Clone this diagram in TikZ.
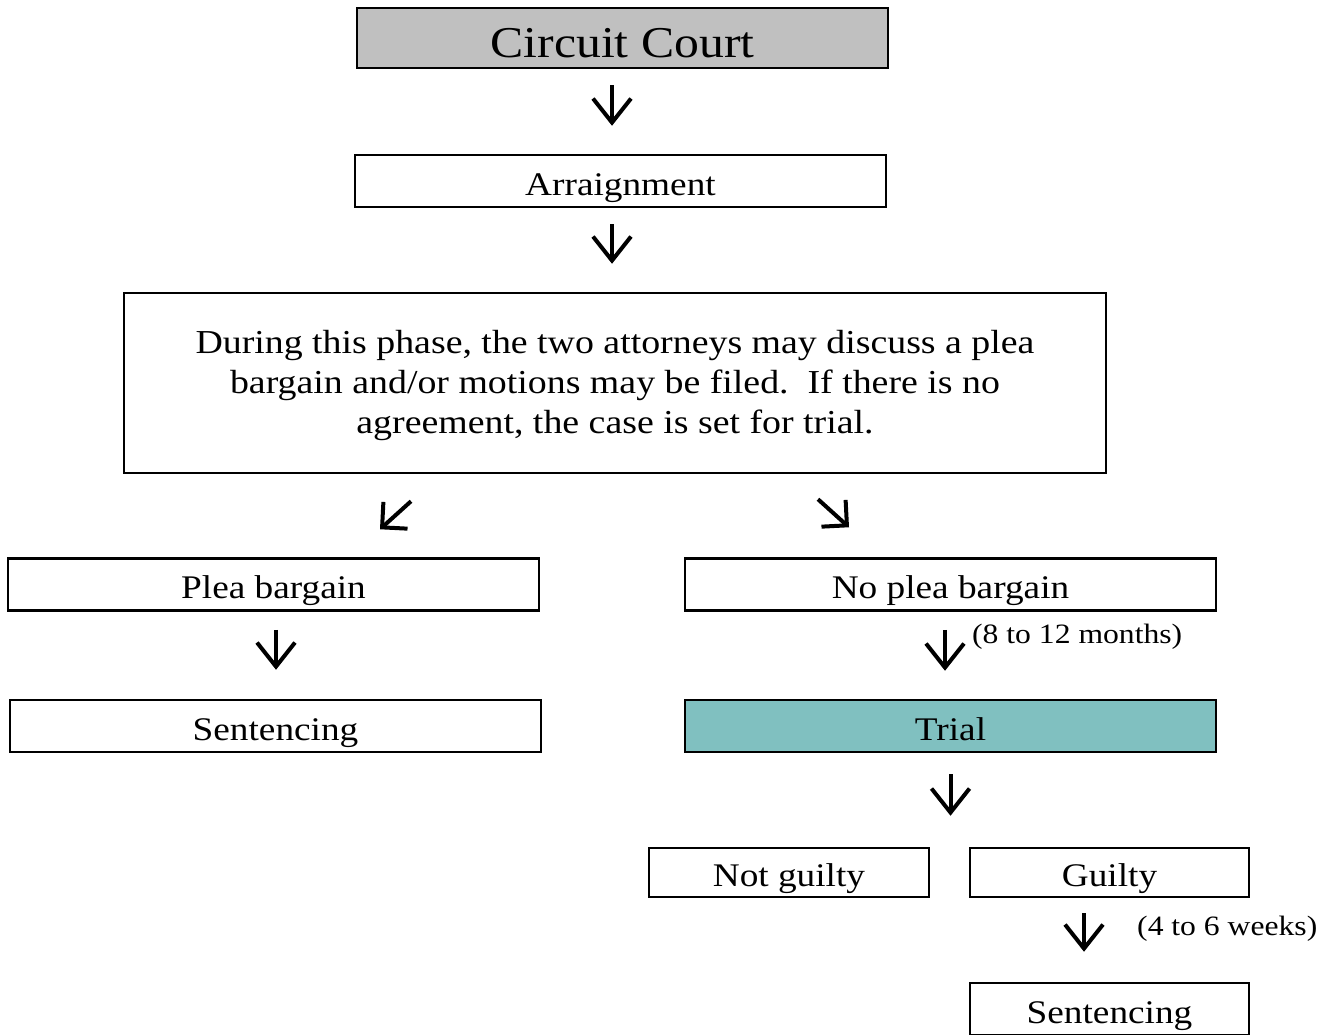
\documentclass[tikz,border=0pt]{standalone}
\usepackage{fontspec}
\setmainfont{Liberation Serif}[FakeStretch=1.13]
\usetikzlibrary{arrows.meta}
\definecolor{ccgray}{RGB}{192,192,192}
\definecolor{trialc}{RGB}{128,192,192}
\begin{document}
\begin{tikzpicture}[x=1pt,y=-1pt,
  boxbase/.style={draw, line width=2.5pt, inner sep=0pt, minimum width=531pt, minimum height=52pt, font=\fontsize{33}{40}\selectfont},
  box/.style={boxbase, text height=28pt, text depth=0pt},
  arr/.style={line width=4pt, -{Straight Barb[length=24pt,width=38pt]}},
  darr/.style={line width=4pt, -{Straight Barb[length=18pt,width=36pt]}},
  lab/.style={font=\fontsize{28}{34}\selectfont, inner sep=0pt, anchor=west}]
\useasboundingbox (0,0) rectangle (1338,1034);
\clip (0,0) rectangle (1338,1034);

\node[box, fill=ccgray, minimum height=60pt, font=\fontsize{44}{50}\selectfont, text height=38pt] (cc) at (622.5,38) {Circuit Court};
\node[box] (arr) at (620.5,181) {Arraignment};
\node[boxbase, minimum width=982pt, minimum height=180pt, align=center, font=\fontsize{33.5}{40}\selectfont, text height=109pt, text depth=7.2pt] (big) at (615,383)
  {During this phase, the two attorneys may discuss a plea\\bargain and/or motions may be filed.\ \ If there is no\\agreement, the case is set for trial.};
\node[box] (pb) at (273.5,584.5) {Plea bargain};
\node[box] (npb) at (950.5,584.5) {No plea bargain};
\node[box] (sl) at (275.5,726) {Sentencing};
\node[box, fill=trialc] (trial) at (950.5,726) {Trial};
\node[box, minimum width=280pt, minimum height=49pt] (ng) at (789,872.5) {Not guilty};
\node[box, minimum width=279pt, minimum height=49pt] (g) at (1109.5,872.5) {Guilty};
\node[box, minimum width=279pt] (sr) at (1109.5,1009) {Sentencing};

\node[lab] (l1) at (972,637) {(8 to 12 months)};
\node[lab] (l2) at (1137,929) {(4 to 6 weeks)};

\draw[arr, shorten <=16pt, shorten >=28pt] ([xshift=-10.5pt]cc.south) -- ([xshift=-8.5pt]arr.north);
\draw[arr, shorten <=16pt, shorten >=28pt] ([xshift=-8.5pt]arr.south) -- ([xshift=-3pt]big.north);
\draw[darr] ([xshift=-204pt,yshift=-27pt]big.south) -- ([xshift=106.5pt,yshift=28pt]pb.north);
\draw[darr] ([xshift=203pt,yshift=-25pt]big.south) -- ([xshift=-101.5pt,yshift=30pt]npb.north);
\draw[arr, shorten <=18pt, shorten >=29pt] ([xshift=2.5pt]pb.south) -- ([xshift=0.5pt]sl.north);
\draw[arr, shorten <=18pt, shorten >=28pt] ([xshift=-5.5pt]npb.south) -- ([xshift=-5.5pt]trial.north);
\draw[arr, shorten <=21pt, shorten >=31pt] (trial.south) -- (trial.south |- ng.north);
\draw[arr, shorten <=15pt, shorten >=30pt] ([xshift=-25.5pt]g.south) -- ([xshift=-25.5pt]sr.north);
\end{tikzpicture}
\end{document}
